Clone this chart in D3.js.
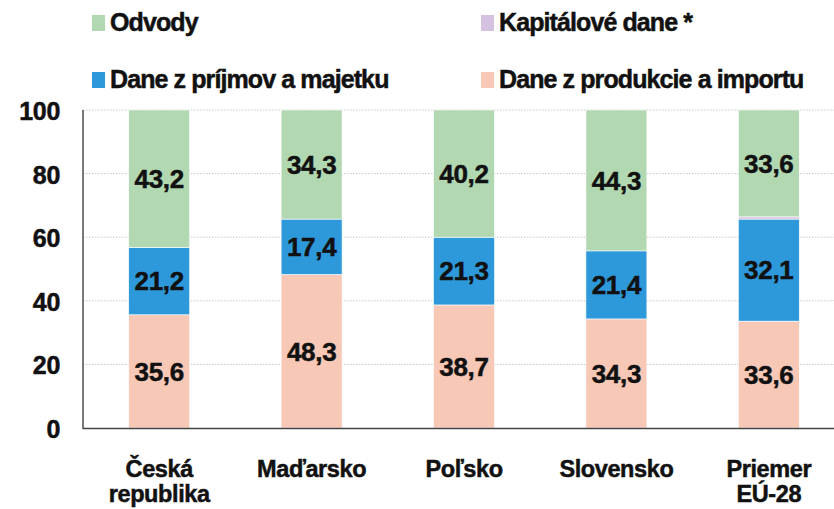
<!DOCTYPE html>
<html>
<head>
<meta charset="utf-8">
<script src="https://cdn.jsdelivr.net/npm/d3@7"></script>
<style>
  body { margin: 0; background: #fff; }
  text { font-family: "Liberation Sans", Arial, "Helvetica Neue", sans-serif; font-weight: bold; fill: #111; stroke: #111; stroke-width: 0.5px; }
</style>
</head>
<body>
<svg id="root" width="834" height="509"></svg>
<script>
// krajiny a hodnoty (v %)
const krajiny = [['Česká', 'republika'], ['Maďarsko'], ['Poľsko'], ['Slovensko'], ['Priemer', 'EÚ-28']]
const daneProdukcia = [35.6, 48.3, 38.7, 34.3, 33.6]
const danePrijmy = [21.2, 17.4, 21.3, 21.4, 32.1]
const kapitaloveDane = [0, 0, 0, 0, 0.7]
const odvody = [43.2, 34.3, 40.2, 44.3, 33.6]
const yTicks = [0, 20, 40, 60, 80, 100]

const serie = [
  { nazov: 'Dane z produkcie a importu', hodnoty: daneProdukcia, farba: '#f8c8b6' },
  { nazov: 'Dane z príjmov a majetku', hodnoty: danePrijmy, farba: '#2d98da' },
  { nazov: 'Kapitálové dane *', hodnoty: kapitaloveDane, farba: '#d5c1e0' },
  { nazov: 'Odvody', hodnoty: odvody, farba: '#b2d8b2' }
]

const root = d3.select('#root')
const mLeft = 83
const mTop = 110
const mBottom = 428

const x = d3.scaleBand()
  .domain(krajiny.map((d, i) => i))
  .range([mLeft, 845])
  .paddingInner(0.6)
  .paddingOuter(0.3)

const y = d3.scaleLinear().domain([0, 100]).range([mBottom, mTop])

// mriezka
root.append('g').selectAll('line').data(yTicks.filter((t) => t > 0)).enter().append('line')
  .attr('x1', mLeft).attr('x2', 834)
  .attr('y1', (d) => y(d)).attr('y2', (d) => y(d))
  .attr('stroke', '#c8c8c8')
  .attr('stroke-width', 1)
  .attr('stroke-dasharray', '1.5,1.5')

// stlpce
const tabulka = krajiny.map((k, i) => {
  let o = { i: i }
  serie.forEach((s) => { o[s.nazov] = s.hodnoty[i] })
  return o
})
const stack = d3.stack().keys(serie.map((s) => s.nazov))(tabulka)

const vrstvy = root.append('g').selectAll('g').data(stack).enter().append('g')
  .attr('fill', (d, i) => serie[i].farba)

vrstvy.selectAll('rect').data((d) => d).enter().append('rect')
  .attr('x', (d) => x(d.data.i))
  .attr('width', x.bandwidth())
  .attr('y', (d) => y(Math.min(d[1], 100)))
  .attr('height', (d) => Math.max(0, y(d[0]) - y(Math.min(d[1], 100))))
  .attr('stroke', '#fff')
  .attr('stroke-width', 0.6)

// hodnoty v stlpcoch
stack.forEach((vrstva, si) => {
  if (serie[si].nazov === 'Kapitálové dane *') return
  root.append('g').selectAll('text').data(vrstva).enter().append('text')
    .attr('x', (d) => x(d.data.i) + x.bandwidth() / 2)
    .attr('y', (d) => (y(d[0]) + y(Math.min(d[1], 100))) / 2)
    .attr('dy', '0.36em')
    .attr('text-anchor', 'middle')
    .style('font-size', '26px')
    .style('letter-spacing', '-0.3px')
    .text((d) => d3.format('.1f')(d[1] - d[0]).replace('.', ','))
})

// os y
root.append('line')
  .attr('x1', mLeft).attr('x2', mLeft)
  .attr('y1', mTop).attr('y2', mBottom + 1)
  .attr('stroke', '#222').attr('stroke-width', 1.2)
root.append('line')
  .attr('x1', mLeft).attr('x2', 834)
  .attr('y1', mBottom + 0.5).attr('y2', mBottom + 0.5)
  .attr('stroke', '#444').attr('stroke-width', 1.5)

root.append('g').selectAll('text').data(yTicks).enter().append('text')
  .attr('x', 60)
  .attr('y', (d) => y(d) + 1)
  .attr('dy', '0.36em')
  .attr('text-anchor', 'end')
  .style('font-size', '25px')
  .style('letter-spacing', '-0.3px')
  .text((d) => d)

// os x
const xLab = root.append('g').selectAll('text').data(krajiny).enter().append('text')
  .attr('text-anchor', 'middle')
  .style('font-size', '23.5px')
  .style('letter-spacing', '-0.4px')
xLab.selectAll('tspan').data((d, i) => d.map((t) => ({ t: t, i: i }))).enter().append('tspan')
  .attr('x', (d) => x(d.i) + x.bandwidth() / 2)
  .attr('y', (d, j) => 477 + j * 25)
  .text((d) => d.t)

// legenda
const legenda = [
  { s: serie[3], x: 92, y: 15 },
  { s: serie[2], x: 481, y: 15 },
  { s: serie[1], x: 92, y: 72 },
  { s: serie[0], x: 481, y: 72 }
]
const lg = root.append('g').selectAll('g').data(legenda).enter().append('g')
  .attr('transform', (d) => 'translate(' + d.x + ',' + d.y + ')')
lg.append('rect')
  .attr('width', 13).attr('height', 16)
  .attr('fill', (d) => d.s.farba)
lg.append('text')
  .attr('x', 18).attr('y', 16)
  .style('font-size', '25px')
  .style('letter-spacing', '-0.9px')
  .text((d) => d.s.nazov)
</script>
</body>
</html>
